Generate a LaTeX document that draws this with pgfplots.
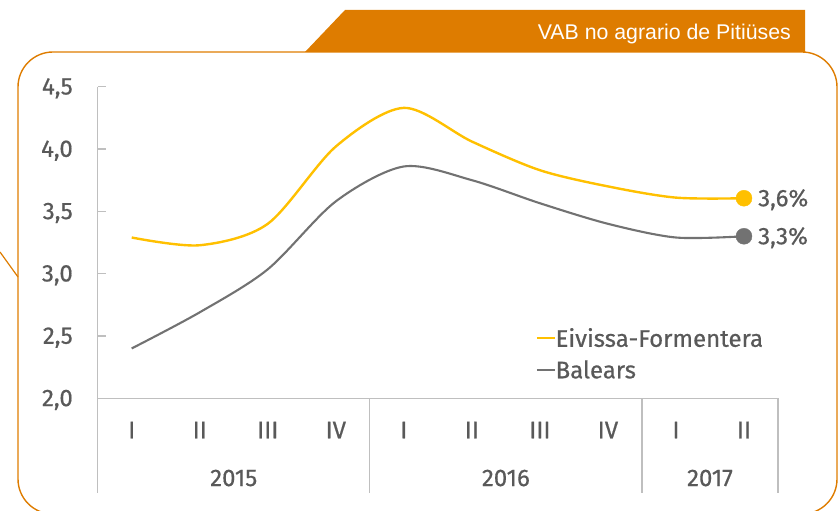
\documentclass[border=0pt]{standalone}
\usepackage{pgfplots}
\pgfplotsset{compat=1.18}
\usepackage{fontspec}
\setmainfont{Fira Sans}[FakeBold=0.6]
\newfontfamily\titlefont{Liberation Sans}
\definecolor{orng}{HTML}{DE7C00}
\definecolor{axgray}{HTML}{BFBFBF}
\definecolor{txtgray}{HTML}{595959}
\definecolor{yel}{HTML}{FFC000}
\definecolor{gry}{HTML}{727272}
\newcommand\cf{\fontsize{24}{28}\selectfont}
\begin{document}
\begin{tikzpicture}[x=1pt,y=1pt]
\useasboundingbox (0,0) rectangle (838,511);
% frame
\draw[orng, line width=1.4pt, rounded corners=35pt] (18,-3) rectangle (837,459);
\draw[orng, line width=1.2pt] (0,259) -- (18,234);
\fill[orng] (305,459) -- (345,501) -- (805,501) -- (805,459) -- cycle;
\node[anchor=base east, inner sep=0pt, text=white, font=\titlefont\fontsize{21.3}{24}\selectfont] at (791,471.7) {VAB no agrario de Pitiüses};
\begin{axis}[
  at={(97.7pt,112.7pt)}, anchor=south west,
  scale only axis, width=680.3pt, height=311.6pt,
  xmin=-0.5, xmax=9.5, ymin=2, ymax=4.5,
  axis lines*=left,
  axis line style={axgray, line width=1.3pt},
  clip=false,
  xtick={0,...,9},
  xticklabels={I,II,III,IV,I,II,III,IV,I,II},
  x tick style={draw=none},
  xticklabel style={anchor=base, inner sep=0pt, yshift=-40pt, font=\cf, text=txtgray},
  ytick={2,2.5,3,3.5,4,4.5},
  y tick style={axgray, line width=1.2pt},
  tick align=inside,
  major tick length=8pt,
  yticklabel style={anchor=base east, inner sep=0pt, xshift=-24.7pt, yshift=-7.8pt, font=\cf, text=txtgray},
  /pgf/number format/.cd, fixed, fixed zerofill, precision=1, use comma, assume math mode=true,
  /pgfplots/.cd,
  legend cell align=left,
  legend style={at={(axis cs:5.94,2.565)}, anchor=north west, draw=none, fill=none,
    inner sep=0pt, row sep=12pt, column sep=0pt, font=\cf, text=txtgray,
    nodes={inner sep=0pt}},
  legend image code/.code={\draw[#1, line width=1.6pt] (0pt,0pt) -- (18pt,0pt);},
]
\addplot[yel, line width=2.4pt, smooth, tension=0.5] coordinates {
(0,3.29) (1,3.228) (2,3.40) (3,4.02) (4,4.33) (5,4.06) (6,3.83) (7,3.70) (8,3.61) (9,3.605)};
\addlegendentry{Eivissa-Formentera}
\addplot[gry, line width=2.1pt, smooth, tension=0.5] coordinates {
(0,2.40) (1,2.69) (2,3.035) (3,3.58) (4,3.86) (5,3.75) (6,3.565) (7,3.40) (8,3.29) (9,3.30)};
\addlegendentry{Balears}
\addplot[yel, only marks, mark=*, mark size=8pt, forget plot] coordinates {(9,3.605)};
\addplot[gry, only marks, mark=*, mark size=8pt, forget plot] coordinates {(9,3.30)};
\node[anchor=base west, inner sep=0pt, font=\cf, text=txtgray, xshift=14pt, yshift=-8pt] at (axis cs:9,3.605) {3,6\%};
\node[anchor=base west, inner sep=0pt, font=\cf, text=txtgray, xshift=14pt, yshift=-8pt] at (axis cs:9,3.30) {3,3\%};
% separators
\draw[axgray, line width=1.3pt] (axis cs:-0.5,2) -- (axis cs:-0.5,1.238);
\draw[axgray, line width=1.3pt] (axis cs:3.5,2) -- (axis cs:3.5,1.238);
\draw[axgray, line width=1.3pt] (axis cs:7.5,2) -- (axis cs:7.5,1.238);
\draw[axgray, line width=1.3pt] (axis cs:9.5,2) -- (axis cs:9.5,1.238);
\node[anchor=base, inner sep=0pt, font=\cf, text=txtgray] at (axis cs:1.5,1.296) {2015};
\node[anchor=base, inner sep=0pt, font=\cf, text=txtgray] at (axis cs:5.5,1.296) {2016};
\node[anchor=base, inner sep=0pt, font=\cf, text=txtgray] at (axis cs:8.5,1.296) {2017};
\end{axis}
\end{tikzpicture}
\end{document}
